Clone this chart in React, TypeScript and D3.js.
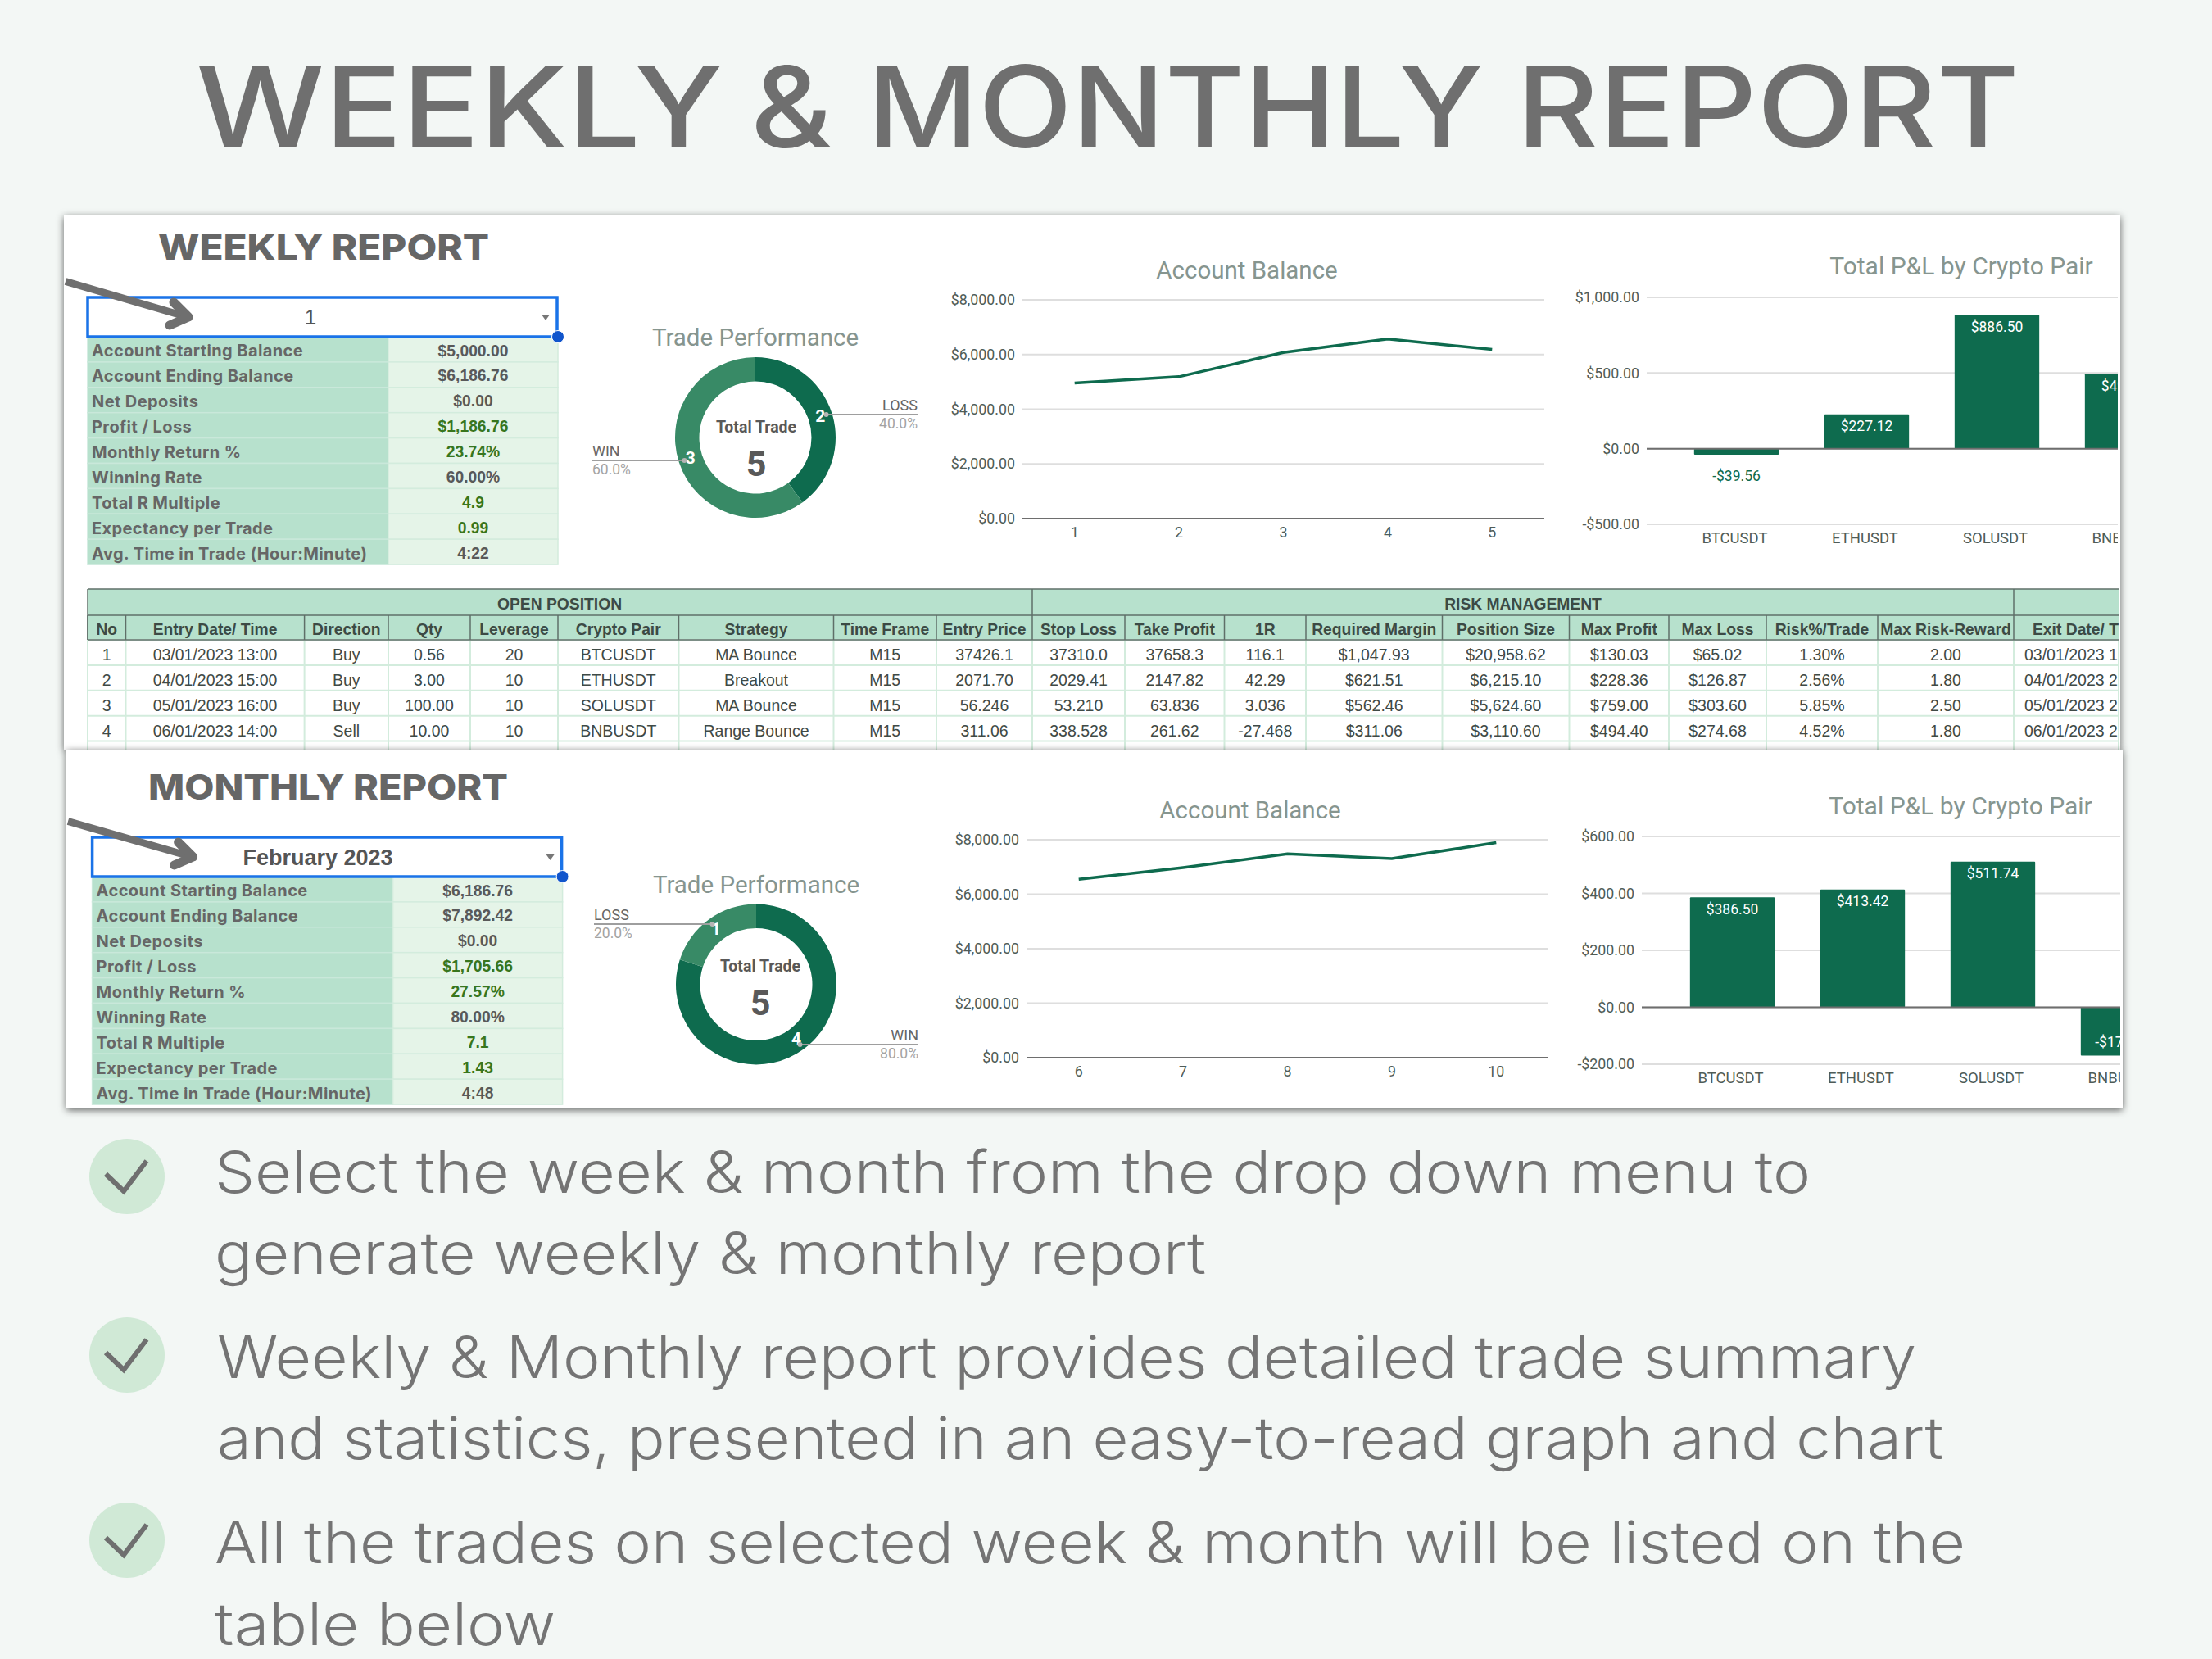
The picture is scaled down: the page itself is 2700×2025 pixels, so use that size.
import React from "react";
import * as d3 from "d3";

const titleWords = ["WEEKLY", "&", "MONTHLY", "REPORT"];

const statLabels = [
    "Account Starting Balance",
    "Account Ending Balance",
    "Net Deposits",
    "Profit / Loss",
    "Monthly Return %",
    "Winning Rate",
    "Total R Multiple",
    "Expectancy per Trade",
    "Avg. Time in Trade (Hour:Minute)",
];
const greenStats = [3, 4, 6, 7];
const weeklyStats = ["$5,000.00", "$6,186.76", "$0.00", "$1,186.76", "23.74%", "60.00%", "4.9", "0.99", "4:22"];
const monthlyStats = ["$6,186.76", "$7,892.42", "$0.00", "$1,705.66", "27.57%", "80.00%", "7.1", "1.43", "4:48"];

const balanceTicks = [0, 2000, 4000, 6000, 8000];
const weeklyPeriods = ["1", "2", "3", "4", "5"];
const weeklyBalance = [4960.44, 5187.56, 6074.06, 6568.46, 6186.76];
const monthlyPeriods = ["6", "7", "8", "9", "10"];
const monthlyBalance = [6550, 6980, 7480, 7310, 7892.42];

const pairs = ["BTCUSDT", "ETHUSDT", "SOLUSDT", "BNBUSDT"];
const weeklyPnl = [-39.56, 227.12, 886.5, 494.4];
const weeklyPnlTicks = [-500, 0, 500, 1000];
const monthlyPnl = [386.5, 413.42, 511.74, -170];
const monthlyPnlTicks = [-200, 0, 200, 400, 600];

const weeklyTrades = [
    { name: "LOSS", count: 2, share: "40.0%" },
    { name: "WIN", count: 3, share: "60.0%" },
];
const monthlyTrades = [
    { name: "WIN", count: 4, share: "80.0%" },
    { name: "LOSS", count: 1, share: "20.0%" },
];

const tableHeaders = [
    "No", "Entry Date/ Time", "Direction", "Qty", "Leverage", "Crypto Pair", "Strategy", "Time Frame", "Entry Price",
    "Stop Loss", "Take Profit", "1R", "Required Margin", "Position Size", "Max Profit", "Max Loss", "Risk%/Trade", "Max Risk-Reward",
];
const tableRows = [
    ["1", "03/01/2023 13:00", "Buy", "0.56", "20", "BTCUSDT", "MA Bounce", "M15", "37426.1", "37310.0", "37658.3", "116.1", "$1,047.93", "$20,958.62", "$130.03", "$65.02", "1.30%", "2.00"],
    ["2", "04/01/2023 15:00", "Buy", "3.00", "10", "ETHUSDT", "Breakout", "M15", "2071.70", "2029.41", "2147.82", "42.29", "$621.51", "$6,215.10", "$228.36", "$126.87", "2.56%", "1.80"],
    ["3", "05/01/2023 16:00", "Buy", "100.00", "10", "SOLUSDT", "MA Bounce", "M15", "56.246", "53.210", "63.836", "3.036", "$562.46", "$5,624.60", "$759.00", "$303.60", "5.85%", "2.50"],
    ["4", "06/01/2023 14:00", "Sell", "10.00", "10", "BNBUSDT", "Range Bounce", "M15", "311.06", "338.528", "261.62", "-27.468", "$311.06", "$3,110.60", "$494.40", "$274.68", "4.52%", "1.80"],
];
const exitHeader = "Exit Date/ T";
const exitCells = ["03/01/2023 1", "04/01/2023 2", "05/01/2023 2", "06/01/2023 2"];

const bulletLines = [
    ["Select the week & month from the drop down menu to", "generate weekly & monthly report"],
    ["Weekly & Monthly report provides detailed trade summary", "and statistics, presented in an easy-to-read graph and chart"],
    ["All the trades on selected week & month will be listed on the", "table below"],
];

// layout
const titleSpans = [[239, 644], [916, 100], [1058, 753], [1851, 614]];
const columnEdges = [107, 153.5, 371.6, 474, 574, 681, 828.5, 1017.5, 1143, 1260, 1373, 1494.5, 1594, 1760.5, 1915.5, 2037, 2156, 2292, 2458];
const bulletBaselines = [[1456, 1555], [1682, 1781], [1908, 2008]];
const bulletX = [[262, 262], [265, 265], [262, 262]];
const bulletWidths = [[1948, 1210], [2074, 2107], [2137, 416]];
const bulletCentres = [1436, 1654, 1880];

const HEAD = "Inter, sans-serif";
const CHART = "Roboto, sans-serif";
const SHEET = "'Liberation Sans', Arial, sans-serif";
const DARK = "#0e6b4e";
const LIGHT = "#388a66";
const GREY = "#6f6f6f";
const MINT = "#b7e1cd";
const PALE = "#e5f4e8";
const ROW = 30.9;

const money = d3.formatLocale({ decimal: ".", thousands: ",", grouping: [3], currency: ["$", ""], minus: "-" }).format("$,.2f");

type Slice = { name: string; count: number; share: string };

type ReportProps = {
    id: string;
    x: number;
    y: number;
    width: number;
    height: number;
    heading: string;
    headingX: number;
    headingWidth: number;
    headingBase: number;
    pick: string;
    pickBold: boolean;
    pickX: number;
    boxX: number;
    boxY: number;
    stats: string[];
    donutX: number;
    donutY: number;
    centreX: number;
    centreY: number;
    leftEnd: number;
    rightEnd: number;
    donutTitleY: number;
    trades: Slice[];
    periods: string[];
    balance: number[];
    lineLeft: number;
    lineTop: number;
    lineBottom: number;
    lineTitleX: number;
    lineTitleY: number;
    pnl: number[];
    pnlTicks: number[];
    barLeft: number;
    bandLeft: number;
    barTop: number;
    barBottom: number;
    barTitleX: number;
    barTitleY: number;
};

const Report: React.FC<ReportProps> = (p) => {
    const right = p.x + p.width;

    const arc = d3.arc<d3.PieArcDatum<Slice>>().innerRadius(68.5).outerRadius(98);
    const leaderArc = d3.arc<d3.PieArcDatum<Slice>>().innerRadius(91).outerRadius(91);
    const slices = d3.pie<Slice>().sort(null).value((d) => d.count)(p.trades);

    const lineX = d3.scalePoint().domain(p.periods).range([p.lineLeft, p.lineLeft + 637]).padding(0.5);
    const lineY = d3.scaleLinear().domain([0, 8000]).range([p.lineBottom, p.lineTop]);
    const balancePath = d3.line<number>()
        .x((_, i) => lineX(p.periods[i]) as number)
        .y((d) => lineY(d))(p.balance) as string;

    const barX = d3.scaleBand().domain(pairs).range([p.bandLeft, p.bandLeft + 636]).paddingInner(0.35).paddingOuter(0.175);
    const barY = d3.scaleLinear()
        .domain([p.pnlTicks[0], p.pnlTicks[p.pnlTicks.length - 1]])
        .range([p.barBottom, p.barTop]);

    return (
        <g>
            <rect x={p.x} y={p.y} width={p.width} height={p.height} fill="#fff" filter="url(#panelShadow)" />
            <text x={p.headingX} y={p.headingBase} fontFamily={HEAD} fontWeight={800} fontSize={43} fill="#666"
                textLength={p.headingWidth} lengthAdjust="spacingAndGlyphs">{p.heading}</text>

            {/* stats block */}
            {p.stats.map((v, i) => {
                const ry = p.boxY + 48 + i * ROW;
                return (
                    <g key={i}>
                        <rect x={p.boxX} y={ry} width={367} height={ROW} fill={MINT} stroke="#c9e8da" strokeWidth={1.5} />
                        <rect x={p.boxX + 367} y={ry} width={207} height={ROW} fill={PALE} stroke="#d3ecdd" strokeWidth={1.5} />
                        <text x={p.boxX + 5} y={ry + ROW / 2 + 3.5} dominantBaseline="middle" fontFamily={HEAD} fontWeight={700}
                            fontSize={20} letterSpacing={0.4} fill="#666">{statLabels[i]}</text>
                        <text x={p.boxX + 470.5} y={ry + ROW / 2 + 3} dominantBaseline="middle" textAnchor="middle" fontFamily={SHEET}
                            fontWeight={700} fontSize={19.3} fill={greenStats.includes(i) ? "#38761d" : "#595959"}>{v}</text>
                    </g>
                );
            })}
            <rect x={p.boxX} y={p.boxY} width={573} height={48} fill="#fff" stroke="#1a73e8" strokeWidth={3.5} />
            <text x={p.pickX} y={p.boxY + 26.5} dominantBaseline="middle" textAnchor="middle" fontFamily={SHEET}
                fontWeight={p.pickBold ? 700 : 400} fontSize={p.pickBold ? 27 : 26} fill="#555">{p.pick}</text>
            <path d={`M${p.boxX + 554},${p.boxY + 21}h10l-5,7z`} fill="#777" />
            <circle cx={p.boxX + 574} cy={p.boxY + 48} r={7.5} fill="#1155cc" stroke="#fff" strokeWidth={1} />
            <g fill="none" stroke={GREY} strokeLinecap="round" strokeLinejoin="round">
                <path d={`M${p.x + 2},${p.boxY - 19.5}L${p.boxX + 122},${p.boxY + 24}`} strokeWidth={9} strokeLinecap="butt" />
                <path d={`M${p.boxX + 105},${p.boxY + 6}L${p.boxX + 123},${p.boxY + 24}L${p.boxX + 100},${p.boxY + 34}`} strokeWidth={11} />
            </g>

            {/* donut */}
            <text x={p.donutX} y={p.donutTitleY + 2} dominantBaseline="middle" textAnchor="middle" fontFamily={CHART} fontSize={29.5} fill="#86958f">Trade Performance</text>
            <g transform={`translate(${p.donutX},${p.donutY})`}>
                {slices.map((s, i) => {
                    const [cx, cy] = arc.centroid(s);
                    const [lx, ly] = leaderArc.centroid(s);
                    const toRight = lx > 0;
                    const end = (toRight ? p.rightEnd : p.leftEnd) - p.donutX;
                    return (
                        <g key={s.data.name}>
                            <path d={arc(s) as string} fill={i === 0 ? DARK : LIGHT} />
                            <text x={cx} y={cy + 1} dominantBaseline="middle" textAnchor="middle" fontFamily={CHART} fontWeight={700} fontSize={21} fill="#fff">{s.data.count}</text>
                            <line x1={lx} y1={ly} x2={end} y2={ly} stroke="#9e9e9e" strokeWidth={2} />
                            <circle cx={lx} cy={ly} r={3} fill="#b5b5b5" />
                            <text x={end} y={ly - 10} dominantBaseline="middle" textAnchor={toRight ? "end" : "start"} fontFamily={CHART} fontSize={18} fill="#666">{s.data.name}</text>
                            <text x={end} y={ly + 12} dominantBaseline="middle" textAnchor={toRight ? "end" : "start"} fontFamily={CHART} fontSize={17.5} fill="#a3a3a3">{s.data.share}</text>
                        </g>
                    );
                })}
            </g>
            <text x={p.centreX} y={p.centreY - 12} dominantBaseline="middle" textAnchor="middle" fontFamily={CHART} fontWeight={700} fontSize={19.5} fill="#595959">Total Trade</text>
            <text x={p.centreX} y={p.centreY + 35} dominantBaseline="middle" textAnchor="middle" fontFamily={CHART} fontWeight={700} fontSize={43} fill="#595959">5</text>

            {/* account balance line */}
            <text x={p.lineTitleX} y={p.lineTitleY + 2.5} dominantBaseline="middle" textAnchor="middle" fontFamily={CHART} fontSize={29.5} fill="#86958f">Account Balance</text>
            {balanceTicks.map((t) => (
                <g key={t}>
                    <line x1={p.lineLeft} x2={p.lineLeft + 637} y1={lineY(t)} y2={lineY(t)} stroke={t === 0 ? "#6e6e6e" : "#dedede"} strokeWidth={2} />
                    <text x={p.lineLeft - 9} y={lineY(t) + 1.5} dominantBaseline="middle" textAnchor="end" fontFamily={CHART} fontSize={17.8} fill="#4f5c57">{money(t)}</text>
                </g>
            ))}
            <path d={balancePath} fill="none" stroke={DARK} strokeWidth={3.5} />
            {p.periods.map((d) => (
                <text key={d} x={lineX(d)} y={p.lineBottom + 18} dominantBaseline="middle" textAnchor="middle" fontFamily={CHART} fontSize={17.8} fill="#4f5c57">{d}</text>
            ))}

            {/* P&L bars, cut off by the edge of the panel */}
            <text x={p.barTitleX} y={p.barTitleY + 2} dominantBaseline="middle" textAnchor="middle" fontFamily={CHART} fontSize={30} fill="#86958f">Total P&amp;L by Crypto Pair</text>
            <g clipPath={`url(#${p.id}-clip)`}>
                {p.pnlTicks.map((t) => (
                    <line key={t} x1={p.barLeft} x2={right} y1={barY(t)} y2={barY(t)} stroke="#dedede" strokeWidth={2} />
                ))}
                {p.pnl.map((v, i) => {
                    const top = barY(Math.max(v, 0));
                    const bottom = barY(Math.min(v, 0));
                    const small = bottom - top < 40;
                    const ty = v >= 0 ? top + 16 : small ? bottom + 27 : bottom - 15;
                    const cx = (barX(pairs[i]) as number) + barX.bandwidth() / 2;
                    return (
                        <g key={pairs[i]}>
                            <rect x={barX(pairs[i])} y={top} width={barX.bandwidth()} height={bottom - top} fill={DARK} rx={1} />
                            <text x={cx} y={ty} dominantBaseline="middle" textAnchor="middle" fontFamily={CHART} fontSize={17.5} fill={small ? DARK : "#fff"}>{money(v)}</text>
                            <text x={cx - 2} y={p.barBottom + 18} dominantBaseline="middle" textAnchor="middle" fontFamily={CHART} fontSize={18.5} fill="#4f5c57">{pairs[i]}</text>
                        </g>
                    );
                })}
                <line x1={p.barLeft} x2={right} y1={barY(0)} y2={barY(0)} stroke="#6e6e6e" strokeWidth={2} />
            </g>
            {p.pnlTicks.map((t) => (
                <text key={t} x={p.barLeft - 9} y={barY(t) + 1.5} dominantBaseline="middle" textAnchor="end" fontFamily={CHART} fontSize={17.8} fill="#4f5c57">{money(t)}</text>
            ))}
            <clipPath id={`${p.id}-clip`}>
                <rect x={p.x} y={p.y} width={p.width - 3} height={p.height} />
            </clipPath>
        </g>
    );
};

const TradeTable: React.FC = () => {
    const top = 719;
    const groupBottom = 751;
    const headBottom = 781;
    const tableRight = 2586;
    const last = columnEdges[columnEdges.length - 1];
    const rowLines = d3.range(0, 6).map((i) => headBottom + i * ROW);
    return (
        <g>
            <rect x={107} y={top} width={tableRight - 107} height={headBottom - top} fill={MINT} />
            {rowLines.map((y) => (
                <line key={y} x1={107} x2={tableRight} y1={y} y2={y} stroke="#d3ecdd" strokeWidth={2} />
            ))}
            {columnEdges.concat([tableRight]).map((x) => (
                <line key={x} x1={x} x2={x} y1={headBottom} y2={916} stroke="#d3ecdd" strokeWidth={2} />
            ))}
            <g stroke="#5f6f68" strokeWidth={1.5}>
                <line x1={107} x2={tableRight} y1={top} y2={top} />
                <line x1={107} x2={tableRight} y1={groupBottom} y2={groupBottom} />
                <line x1={107} x2={tableRight} y1={headBottom} y2={headBottom} />
                {columnEdges.map((x) => (
                    <line key={x} x1={x} x2={x} y1={groupBottom} y2={headBottom} />
                ))}
                <line x1={107} x2={107} y1={top} y2={headBottom} />
                <line x1={1260} x2={1260} y1={top} y2={groupBottom} />
                <line x1={last} x2={last} y1={top} y2={groupBottom} />
            </g>
            <g fontFamily={SHEET} fontWeight={700} fontSize={19.3} fill="#3c4a45" textAnchor="middle" dominantBaseline="middle">
                <text x={683} y={738.7}>OPEN POSITION</text>
                <text x={1859} y={738.7}>RISK MANAGEMENT</text>
                {tableHeaders.map((h, i) => (
                    <text key={h} x={(columnEdges[i] + columnEdges[i + 1]) / 2} y={769.7}>{h}</text>
                ))}
                <text x={2481} y={769.7} textAnchor="start">{exitHeader}</text>
            </g>
            <g fontFamily={SHEET} fontSize={19.5} fill="#3f4a46" textAnchor="middle" dominantBaseline="middle">
                {tableRows.map((row, r) =>
                    row.map((cell, c) => (
                        <text key={c} x={(columnEdges[c] + columnEdges[c + 1]) / 2} y={headBottom + 19.7 + r * ROW}>{cell}</text>
                    ))
                )}
                {exitCells.map((cell, r) => (
                    <text key={cell} x={2471} y={headBottom + 19.7 + r * ROW} textAnchor="start">{cell}</text>
                ))}
            </g>
        </g>
    );
};

export default function App() {
    return (
        <svg width={2700} height={2025} viewBox="0 0 2700 2025" style={{ position: "absolute", left: 0, top: 0, display: "block" }}>
            <defs>
                <filter id="panelShadow" x="-3%" y="-5%" width="106%" height="112%">
                    <feDropShadow dx={0} dy={2} stdDeviation={5} floodColor="#000" floodOpacity={0.6} />
                </filter>
            </defs>
            <rect width={2700} height={2025} fill="#f3f7f5" />
            {titleWords.map((w, i) => (
                <text key={w} x={titleSpans[i][0]} y={180} fontFamily={HEAD} fontWeight={550} fontSize={138} fill="#6f6f6f"
                    textLength={titleSpans[i][1]} lengthAdjust="spacingAndGlyphs">{w}</text>
            ))}

            <Report id="weekly" x={78} y={263} width={2510} height={652}
                heading="WEEKLY REPORT" headingX={193} headingWidth={404} headingBase={317}
                pick="1" pickBold={false} pickX={379} boxX={107} boxY={363} stats={weeklyStats}
                donutX={922} donutY={534} centreX={923} centreY={535} leftEnd={723} rightEnd={1120} donutTitleY={412} trades={weeklyTrades}
                periods={weeklyPeriods} balance={weeklyBalance} lineLeft={1248} lineTop={366} lineBottom={633} lineTitleX={1522} lineTitleY={330}
                pnl={weeklyPnl} pnlTicks={weeklyPnlTicks} barLeft={2010} bandLeft={2040} barTop={363} barBottom={640} barTitleX={2394} barTitleY={325} />
            <TradeTable />
            <Report id="monthly" x={81} y={915} width={2510} height={438}
                heading="MONTHLY REPORT" headingX={181} headingWidth={439} headingBase={976}
                pick="February 2023" pickBold={true} pickX={388} boxX={112.6} boxY={1022} stats={monthlyStats}
                donutX={923} donutY={1201.5} centreX={928} centreY={1193} leftEnd={725} rightEnd={1121} donutTitleY={1080} trades={monthlyTrades}
                periods={monthlyPeriods} balance={monthlyBalance} lineLeft={1253} lineTop={1025} lineBottom={1291} lineTitleX={1526} lineTitleY={989}
                pnl={monthlyPnl} pnlTicks={monthlyPnlTicks} barLeft={2004} bandLeft={2035} barTop={1021} barBottom={1299} barTitleX={2393} barTitleY={984} />

            {bulletLines.map((lines, i) => (
                <g key={i}>
                    <circle cx={155} cy={bulletCentres[i]} r={46} fill="#d0e9d6" />
                    <path d={`M${129},${bulletCentres[i] - 3}L${151},${bulletCentres[i] + 18}L${179},${bulletCentres[i] - 19}`}
                        fill="none" stroke={GREY} strokeWidth={6} />
                    {lines.map((line, j) => (
                        <text key={j} x={bulletX[i][j]} y={bulletBaselines[i][j]} fontFamily={HEAD} fontWeight={300} fontSize={71} fill="#747474"
                            textLength={bulletWidths[i][j]} lengthAdjust="spacingAndGlyphs">{line}</text>
                    ))}
                </g>
            ))}
        </svg>
    );
}
